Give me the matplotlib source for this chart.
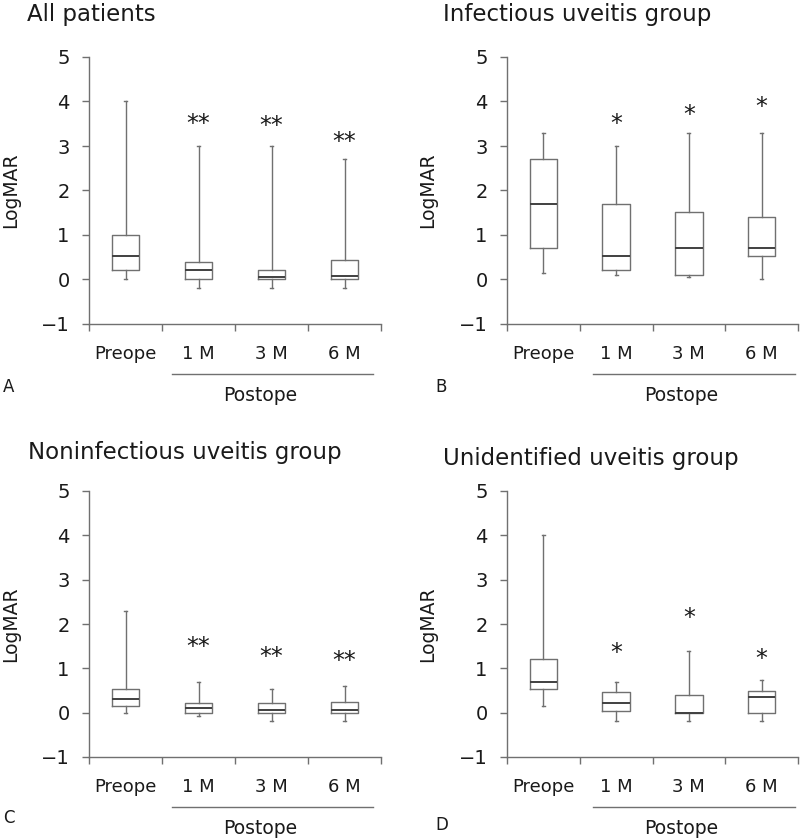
import matplotlib
matplotlib.use("Agg")
import matplotlib.pyplot as plt
from matplotlib.ticker import FixedLocator

plt.rcParams['font.family'] = ['DejaVu Sans']

categories = ["Preope", "1 M", "3 M", "6 M"]
titles = ["All patients", "Infectious uveitis group",
          "Noninfectious uveitis group", "Unidentified uveitis group"]
letters = ["A", "B", "C", "D"]

# per panel: whisker low, Q1, median, Q3, whisker high
all_low = [0.0, -0.18, -0.18, -0.18]
all_q1 = [0.22, 0.0, 0.0, 0.0]
all_med = [0.53, 0.22, 0.06, 0.07]
all_q3 = [1.0, 0.4, 0.22, 0.43]
all_high = [4.0, 3.0, 3.0, 2.7]

inf_low = [0.15, 0.1, 0.05, 0.0]
inf_q1 = [0.7, 0.22, 0.1, 0.53]
inf_med = [1.7, 0.53, 0.7, 0.7]
inf_q3 = [2.7, 1.7, 1.52, 1.4]
inf_high = [3.3, 3.0, 3.3, 3.3]

non_low = [0.0, -0.07, -0.18, -0.18]
non_q1 = [0.15, 0.0, 0.0, 0.0]
non_med = [0.3, 0.1, 0.06, 0.07]
non_q3 = [0.53, 0.22, 0.22, 0.23]
non_high = [2.3, 0.7, 0.53, 0.6]

uni_low = [0.15, -0.18, -0.18, -0.18]
uni_q1 = [0.53, 0.03, 0.0, 0.0]
uni_med = [0.7, 0.22, 0.0, 0.35]
uni_q3 = [1.2, 0.46, 0.4, 0.5]
uni_high = [4.0, 0.7, 1.4, 0.74]

# significance markers (positions 1M, 3M, 6M)
sig_labels = ["**", "*", "**", "*"]
all_sig_y = [3.5, 3.45, 3.1]
inf_sig_y = [3.5, 3.7, 3.88]
non_sig_y = [1.47, 1.26, 1.17]
uni_sig_y = [1.34, 2.13, 1.2]

panels = [
    (all_low, all_q1, all_med, all_q3, all_high, all_sig_y),
    (inf_low, inf_q1, inf_med, inf_q3, inf_high, inf_sig_y),
    (non_low, non_q1, non_med, non_q3, non_high, non_sig_y),
    (uni_low, uni_q1, uni_med, uni_q3, uni_high, uni_sig_y),
]

W, H = 800, 839
fig = plt.figure(figsize=(W / 100, H / 100), dpi=100)

# axes rectangles in pixels: left, right, top(y=5), bottom(y=-1)
rects = [(89, 381, 57, 324), (507, 798, 57, 324),
         (89, 381, 491, 757), (507, 798, 491, 757)]
title_pos = [(27, 14), (443, 14), (28, 452), (443, 458)]
letter_pos = [(3, 387), (435, 387), (3, 818), (435, 825)]
ylabel_x = [20, 437, 20, 437]
post_line = [(1.64, 4.39), (1.68, 4.46), (1.64, 4.39), (1.68, 4.46)]
post_text_x = [2.84, 2.89, 2.84, 2.89]

line_col = "#707070"
text_col = "#1a1a1a"

for i, (low, q1, med, q3, high, sig_y) in enumerate(panels):
    l, r, t, b = rects[i]
    ax = fig.add_axes([l / W, 1 - b / H, (r - l) / W, (b - t) / H])
    stats = []
    for k in range(len(categories)):
        stats.append(dict(whislo=low[k], q1=q1[k], med=med[k], q3=q3[k],
                          whishi=high[k], fliers=[], label=categories[k]))
    ax.bxp(stats, positions=[1, 2, 3, 4], widths=0.38, showfliers=False,
           capwidths=0.04,
           boxprops=dict(color=line_col, linewidth=1.0),
           whiskerprops=dict(color=line_col, linewidth=1.0),
           capprops=dict(color=line_col, linewidth=1.0),
           medianprops=dict(color="#404040", linewidth=1.4))
    ax.set_xlim(0.5, 4.5)
    ax.set_ylim(-1, 5)
    ax.set_yticks([-1, 0, 1, 2, 3, 4, 5])
    ax.set_yticklabels(["\u22121", "0", "1", "2", "3", "4", "5"])
    ax.set_xticks([1, 2, 3, 4])
    ax.set_xticklabels(categories)
    ax.xaxis.set_minor_locator(FixedLocator([0.5, 1.5, 2.5, 3.5, 4.5]))
    ax.tick_params(axis='x', which='major', length=0, pad=15,
                   labelsize=13, colors=text_col)
    ax.tick_params(axis='x', which='minor', length=5, width=1.0,
                   color=line_col, direction='out')
    ax.tick_params(axis='y', length=5, width=1.0, color=line_col,
                   labelsize=14, labelcolor=text_col, pad=9)
    for s in ['top', 'right']:
        ax.spines[s].set_visible(False)
    for s in ['left', 'bottom']:
        ax.spines[s].set_color(line_col)
        ax.spines[s].set_linewidth(1.0)
    ax.set_ylabel("LogMAR", fontsize=13.5, color=text_col)
    ax.yaxis.set_label_coords((ylabel_x[i] - l) / (r - l), 0.5)

    for k, y in enumerate(sig_y):
        ax.text(k + 2, y, sig_labels[i], ha='center', va='center',
                fontsize=17, color=text_col)

    ah = b - t
    x0, x1 = post_line[i]
    ax.plot([x0, x1], [-50 / ah, -50 / ah], color=line_col, linewidth=1.0,
            transform=ax.get_xaxis_transform(), clip_on=False)
    ax.text(post_text_x[i], -72 / ah, "Postope", ha='center', va='center',
            fontsize=13.5, color=text_col, transform=ax.get_xaxis_transform())

    tx, ty = title_pos[i]
    fig.text(tx / W, 1 - ty / H, titles[i], ha='left', va='center',
             fontsize=16.5, color=text_col)
    lx, ly = letter_pos[i]
    fig.text(lx / W, 1 - ly / H, letters[i], ha='left', va='center',
             fontsize=12, color=text_col)

fig.savefig("out.png", dpi=100, facecolor="white")
